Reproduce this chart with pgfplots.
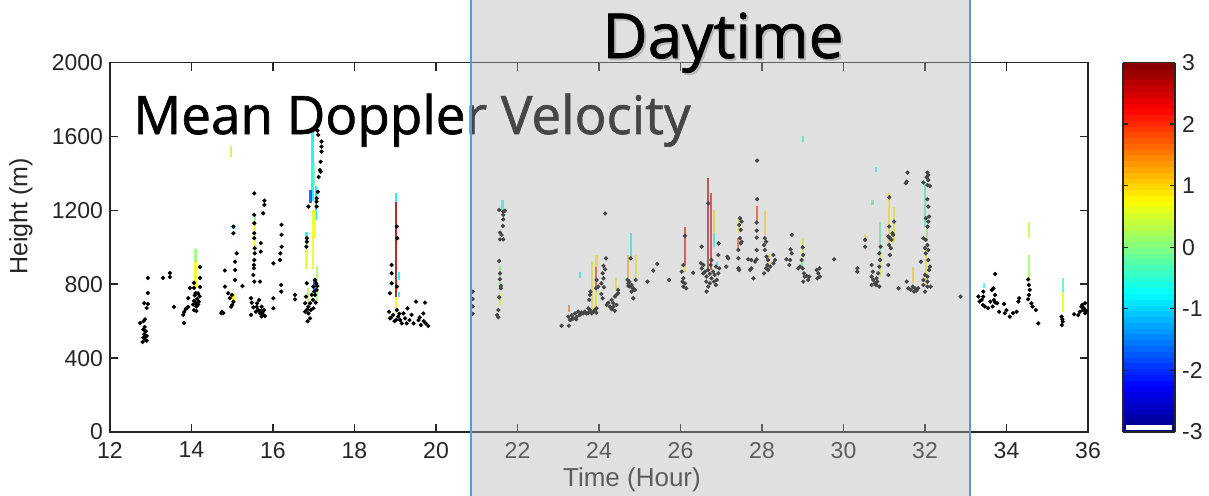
\documentclass[border=0pt]{standalone}
\usepackage{fontspec}
\setmainfont{Liberation Sans}
\newfontfamily\comic[FakeBold=1.2]{Open Sans}
\usepackage{pgfplots}
\pgfplotsset{compat=1.18}
\pgfplotsset{/pgf/number format/assume math mode=true, /pgf/number format/1000 sep={}}
\definecolor{axgray}{rgb}{0.15,0.15,0.15}
\definecolor{borderblue}{RGB}{91,155,213}
\begin{document}
\begin{tikzpicture}
\path[use as bounding box] (0,0) rectangle (604.5pt,247.5pt);
\begin{axis}[
  at={(55pt,31.5pt)}, anchor=south west,
  scale only axis, width=489pt, height=184.75pt,
  xmin=12, xmax=36, ymin=0, ymax=2000,
  xtick={12,14,...,36}, ytick={0,400,...,2000},
  tick align=inside, major tick length=4pt,
  axis line style={draw=axgray, line width=0.8pt},
  every tick/.style={axgray, line width=0.8pt},
  tick label style={font=\fontsize{11.5}{13}\selectfont, text=axgray},
  xticklabel style={yshift=-1.5pt},
  xlabel={Time (Hour)}, ylabel={Height (m)},
  xlabel style={font=\fontsize{13}{15}\selectfont, text=axgray, at={(axis description cs:0.5337,0)}, anchor=base, yshift=-27.3pt},
  ylabel style={font=\fontsize{12.5}{15}\selectfont, text=axgray, at={(axis description cs:-0.091,0.583)}, anchor=center},
  point meta min=-3, point meta max=3,
  colormap/jet,
  colorbar sampled,
  colorbar style={
    at={(parent axis.north east)}, anchor=north west, xshift=9pt,
    scale only axis=true, width=26pt, height=184.75pt,
    samples=65,
    ytick={-3,-2,...,3},
    yticklabel style={font=\fontsize{11.5}{13}\selectfont, text=axgray},
    tick align=inside, major tick length=2.5pt,
    axis line style={draw=axgray, line width=0.8pt},
    every tick/.style={axgray, line width=0.6pt},
    extra description/.code={\fill[white] (axis description cs:0.05,0.005) rectangle (axis description cs:0.95,0.019);},
  },
]
% coloured velocity segments: x, base height, length, velocity
\addplot[quiver={u=0, v=\thisrow{dy}, colored}, point meta=explicit, line width=1.1pt, line cap=butt, opacity=0.85]
 table[x=x, y=y, meta=c] {
x y dy c
14.10 780 140 0.7
14.10 920 70 0.1
14.97 1490 60 0.3
15.03 705 40 0.8
15.03 1100 20 -0.8
15.55 958 172 0.7
15.55 1130 50 0.0
16.97 1250 390 -0.8
17.00 1330 120 0.0
17.05 1150 180 -0.9
16.92 1240 70 -1.8
17.03 1050 150 0.8
16.98 880 320 0.6
16.82 880 150 0.6
16.82 1030 50 -0.8
17.08 700 200 0.2
16.85 650 130 0.3
17.02 770 60 -1.6
19.02 645 88 0.8
19.02 733 512 2.7
19.02 1245 49 -0.8
19.10 823 45 -0.8
19.10 733 27 -0.8
21.63 1202 54 -0.6
21.57 769 130 0.0
21.57 688 65 0.7
23.27 651 37 1.6
23.53 832 36 -0.8
23.82 660 262 0.8
23.93 660 120 0.8
23.93 780 119 2.0
23.94 895 63 0.8
24.42 769 63 0.7
24.78 949 127 -0.7
24.72 832 126 1.2
24.90 823 135 0.8
26.11 868 36 0.8
26.11 904 204 2.3
26.67 868 506 2.8
26.75 877 415 2.4
26.82 1076 126 0.9
26.82 1000 76 -0.6
26.89 904 18 -0.7
27.44 1076 90 0.9
27.42 985 64 1.8
27.87 1139 85 2.0
28.07 1067 131 0.9
28.18 904 54 0.8
29.01 913 136 0.7
28.99 895 30 -0.2
29.00 1570 30 -0.5
30.53 1040 32 0.8
30.79 1409 27 -0.6
30.71 1229 27 -0.3
30.90 967 172 -0.3
30.90 841 126 0.7
31.12 1021 271 0.8
31.24 1021 199 0.7
31.71 805 90 0.9
32.00 1112 243 -0.4
32.02 787 216 0.8
32.05 1040 80 0.1
33.45 778 31 -0.5
34.56 1049 90 0.4
34.56 823 135 0.2
35.38 760 72 -0.3
35.38 650 110 0.6
};
% black points
\addplot[only marks, mark=*, mark size=0.85pt, mark options={draw=none, fill=black}] table {
x y
12.74 590
12.80 487
12.82 510
12.84 530
12.86 500
12.88 545
12.90 520
12.85 568
12.82 555
12.90 495
12.87 515
12.93 834
12.93 752
12.84 698
12.93 693
12.90 671
12.82 600
12.86 610
13.30 834
13.47 861
13.47 839
13.57 677
13.82 650
13.80 634
13.82 590
13.86 666
13.92 677
13.92 725
13.96 780
14.04 690
14.06 710
14.08 740
14.10 700
14.12 680
14.14 720
14.16 750
14.18 705
14.20 735
14.06 660
14.12 655
14.16 690
14.10 752
14.06 807
14.06 780
14.21 893
14.21 834
14.21 785
14.75 650
14.73 644
14.78 644
14.82 787
14.90 751
14.94 724
14.99 742
15.03 705
14.97 678
15.00 688
15.07 823
15.07 877
15.07 922
15.11 967
15.03 1076
15.03 1112
14.82 874
15.25 790
15.54 1292
15.79 1252
15.79 1229
15.76 1184
15.54 1175
15.54 1130
15.54 1076
15.54 1049
15.55 995
15.55 967
15.54 931
15.53 904
15.53 886
15.52 850
15.54 814
15.70 1022
15.70 976
15.68 814
15.46 724
15.48 700
15.52 675
15.60 678
15.64 661
15.68 643
15.72 625
15.76 634
15.80 628
15.46 634
15.58 651
15.61 697
15.66 715
15.72 678
15.70 655
15.74 645
15.78 660
16.21 1121
16.21 1067
16.21 1003
16.18 967
16.17 931
16.01 913
16.20 796
16.20 760
16.01 724
16.01 670
16.54 742
16.54 718
17.09 1631
17.11 1608
17.19 1572
17.19 1545
17.19 1518
17.17 1463
17.17 1409
17.15 1418
17.12 1380
17.10 1300
17.07 1265
17.07 1247
17.07 1220
16.87 1220
16.83 1049
16.83 1030
16.82 1003
17.03 823
17.06 805
16.99 787
17.01 760
16.95 742
16.98 715
16.91 697
16.87 678
16.83 661
16.79 651
16.87 642
16.91 615
16.83 805
16.81 733
16.79 697
17.03 742
17.07 769
16.99 670
16.93 661
17.09 790
17.05 700
16.85 600
19.04 1112
19.05 1049
18.91 904
18.91 859
18.91 805
18.87 751
19.04 787
18.85 651
18.87 615
18.95 634
19.02 606
19.07 624
19.12 606
19.20 642
19.24 615
19.30 669
19.35 606
19.40 634
19.45 588
19.51 706
19.57 606
19.63 579
19.69 642
19.73 700
19.75 588
19.81 574
19.28 588
19.16 588
19.04 660
18.90 620
18.98 600
19.10 640
19.60 620
19.70 600
20.90 760
20.90 720
20.90 680
20.90 640
21.55 1202
21.65 1193
21.69 1198
21.65 1175
21.65 1151
21.64 1115
21.57 1079
21.61 1067
21.57 1043
21.65 1043
21.55 926
21.57 859
21.57 827
21.59 790
21.59 778
21.55 729
21.53 660
21.50 633
21.53 621
23.08 575
23.26 575
23.25 624
23.29 606
23.33 633
23.37 615
23.41 642
23.45 624
23.49 651
23.53 633
23.57 646
23.44 610
23.33 610
23.61 642
23.65 651
23.69 642
23.74 646
23.78 660
23.82 642
23.86 651
23.90 660
23.94 669
23.93 646
23.74 669
23.76 715
23.78 742
23.79 760
23.93 778
23.94 823
23.98 787
24.15 1183
24.17 940
24.11 899
24.15 881
24.09 859
24.11 832
24.06 805
24.12 783
24.06 747
24.09 724
24.19 688
24.23 700
24.31 715
24.35 697
24.39 733
24.43 742
24.47 769
24.35 678
24.27 678
24.31 664
24.39 656
24.43 688
24.47 751
24.78 940
24.70 823
24.72 805
24.76 787
24.80 796
24.84 778
24.88 769
24.84 724
24.74 814
24.90 823
24.80 760
24.72 790
25.19 814
25.33 874
25.43 910
25.72 823
26.11 1061
26.07 904
26.03 868
26.07 832
26.05 814
26.11 805
26.07 787
26.14 778
26.52 1003
26.31 862
26.68 1238
26.50 913
26.52 886
26.56 859
26.60 868
26.64 841
26.68 877
26.72 856
26.76 832
26.80 868
26.84 850
26.89 823
26.93 859
26.95 886
26.63 814
26.68 787
26.64 760
26.72 805
26.82 814
26.87 796
26.93 958
26.94 1021
26.56 904
26.74 904
26.87 895
26.76 931
27.15 949
27.17 940
27.12 895
27.46 1157
27.50 1139
27.44 1121
27.48 1094
27.46 1049
27.42 985
27.42 940
27.42 886
27.44 877
27.50 1030
27.48 1021
27.66 935
27.74 931
27.83 922
27.87 935
27.71 877
27.79 832
27.74 886
27.88 1469
27.88 1260
27.87 1133
27.87 1090
27.87 1052
27.87 985
28.07 1049
28.10 1030
28.05 1012
28.07 985
28.11 949
28.15 931
28.13 904
28.20 895
28.10 886
28.15 877
28.05 859
28.28 958
28.32 931
28.28 913
28.73 1067
28.70 989
28.73 967
28.69 931
28.67 904
28.60 935
29.00 999
29.01 958
28.97 931
28.93 895
29.00 886
29.03 859
29.05 841
29.01 814
29.10 845
29.13 823
29.16 841
29.34 877
29.38 859
29.42 841
29.36 832
29.41 886
28.89 886
29.77 935
30.34 886
30.34 868
30.53 1040
30.53 1003
30.69 904
30.72 868
30.69 841
30.73 823
30.77 805
30.81 832
30.85 859
30.88 895
30.90 931
30.88 967
30.91 1003
30.83 814
30.88 787
30.80 796
30.69 796
31.12 1270
31.12 1112
31.10 1058
31.14 1049
31.18 1040
31.12 1012
31.16 995
31.14 958
31.20 1076
31.24 1139
31.22 1067
31.10 904
31.10 850
31.35 778
31.57 1404
31.55 1355
31.53 1346
31.55 814
31.59 778
31.65 769
31.70 787
31.75 778
31.79 765
31.83 778
31.73 760
32.06 1404
32.08 1391
32.04 1379
32.08 1364
31.96 1350
32.06 1337
32.12 1332
32.06 1260
32.08 1220
32.10 1166
32.02 1157
32.08 1139
32.06 1112
31.96 1049
32.02 1040
32.06 1012
32.00 995
32.08 985
32.02 967
32.08 931
31.90 922
32.12 895
32.10 877
32.00 850
32.06 841
31.96 823
32.06 814
31.96 796
32.06 787
32.00 760
32.14 787
32.87 733
33.31 733
33.34 706
33.39 715
33.43 733
33.42 688
33.43 760
33.47 679
33.55 670
33.60 706
33.64 769
33.68 778
33.72 742
33.69 715
33.66 679
33.72 701
33.77 697
33.82 651
33.94 693
33.96 643
34.00 660
34.08 624
34.16 643
34.25 651
34.29 706
34.31 724
34.53 826
34.55 796
34.57 769
34.55 742
34.53 719
34.61 697
34.64 679
34.72 660
33.72 855
34.78 588
35.35 624
35.38 597
35.36 579
35.37 610
35.66 637
35.76 633
35.80 651
35.84 678
35.88 660
35.86 688
35.90 670
35.93 643
35.93 697
35.95 656
};
\end{axis}
% title text (partly under the shaded band)
\node[anchor=base west, inner sep=0pt, font=\comic\fontsize{26.5}{30}\selectfont] at (66.5pt,180.5pt) {Mean Doppler Velocity};
% daytime band
\fill[black!30.6, fill opacity=0.4] (235.5pt,-2pt) rectangle (485pt,250pt);
\draw[borderblue, line width=1pt] (235.5pt,-2pt) -- (235.5pt,250pt);
\draw[borderblue, line width=1pt] (485pt,-2pt) -- (485pt,250pt);
\node[anchor=base, inner sep=0pt, text=black!35, text opacity=0.6, font=\comic\fontsize{31}{34}\selectfont] at (362.5pt,217.5pt) {Daytime};
\node[anchor=base, inner sep=0pt, font=\comic\fontsize{31}{34}\selectfont] at (361.5pt,218.5pt) {Daytime};
\end{tikzpicture}
\end{document}
